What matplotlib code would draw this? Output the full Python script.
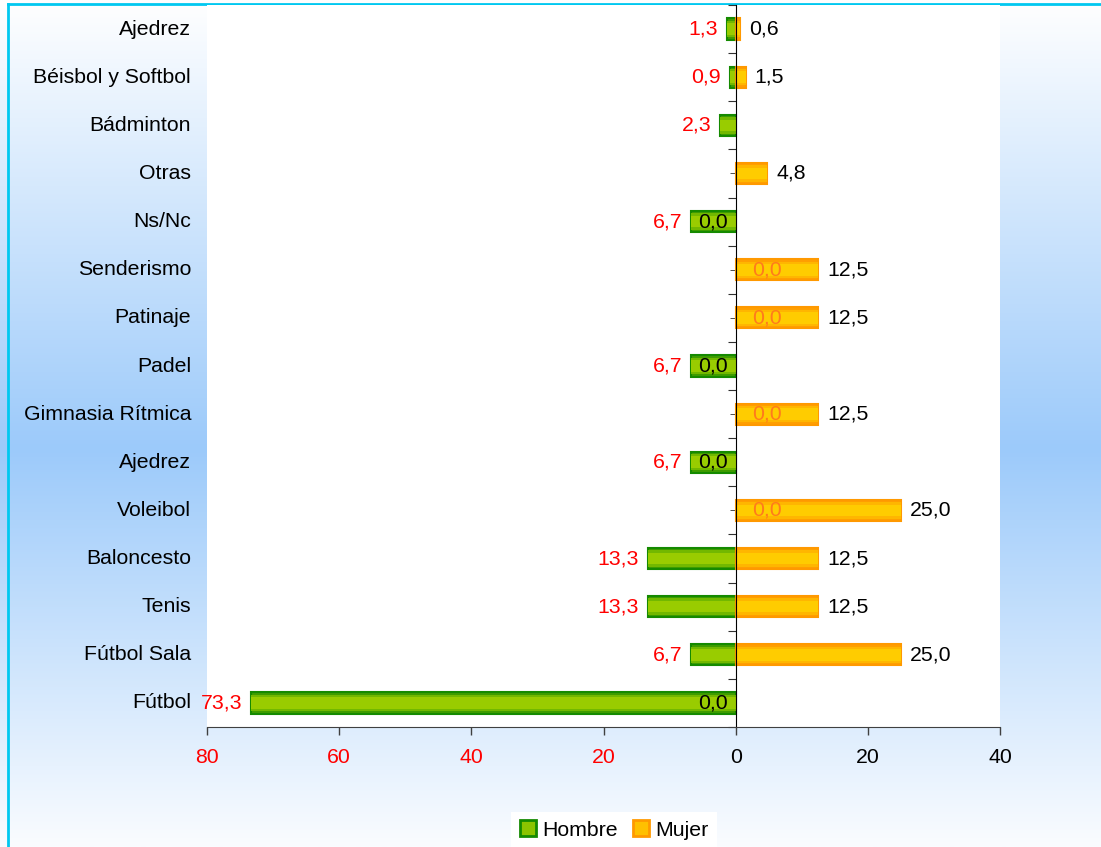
import numpy as np
import matplotlib
matplotlib.use("Agg")
import matplotlib.pyplot as plt
from matplotlib import transforms as mtransforms
from matplotlib.patches import Patch
from matplotlib.colors import to_rgb

plt.rcParams['font.family'] = ['Liberation Sans', 'DejaVu Sans']

# data, top row first
deportes = ['Ajedrez', 'Béisbol y Softbol', 'Bádminton', 'Otras', 'Ns/Nc',
            'Senderismo', 'Patinaje', 'Padel', 'Gimnasia Rítmica', 'Ajedrez',
            'Voleibol', 'Baloncesto', 'Tenis', 'Fútbol Sala', 'Fútbol']
hombre = [1.3, 0.9, 2.3, np.nan, 6.7, 0.0, 0.0, 6.7, 0.0, 6.7, 0.0, 13.3, 13.3, 6.7, 73.3]
mujer = [0.6, 1.5, np.nan, 4.8, 0.0, 12.5, 12.5, 0.0, 12.5, 0.0, 25.0, 12.5, 12.5, 25.0, 0.0]
xticks = [-80, -60, -40, -20, 0, 20, 40]

fmt = lambda v: f'{v:.1f}'.replace('.', ',')

fig = plt.figure(figsize=(11.01, 8.47), dpi=100)

# background gradient (white -> light blue -> white, top to bottom)
bg = fig.add_axes([0, 0, 1, 1], zorder=-5)
bg.set_axis_off()
stops = [0.0, 0.53, 1.0]
cols = np.array([to_rgb('#ffffff'), to_rgb('#9ccafa'), to_rgb('#fafcff')])
t = np.linspace(0, 1, 400)
grad = np.stack([np.interp(t, stops, cols[:, k]) for k in range(3)], axis=1)
bg.imshow(grad[:, None, :], aspect='auto', extent=[0, 1, 0, 1], origin='upper')
bg.set_xlim(0, 1)
bg.set_ylim(0, 1)
# cyan border top/left
bg.plot([8 / 1101, 8 / 1101], [0, 1 - 4 / 847], color='#00c8f0', lw=2)
bg.plot([8 / 1101, 1], [1 - 4 / 847, 1 - 4 / 847], color='#00c8f0', lw=2)

ax = fig.add_axes([207 / 1101, 1 - 727 / 847, 793 / 1101, 722 / 847])
ax.set_facecolor('white')

y = np.arange(len(deportes))
h = np.array(hombre)
m = np.array(mujer)
hb = np.where(np.nan_to_num(h) > 0, -h, np.nan)
mb = np.where(np.nan_to_num(m) > 0, m, np.nan)

# hombre bars (negative side), layered for a soft gradient
ax.barh(y, hb, height=0.44, facecolor='#3f9c00', edgecolor='#158a00', lw=1.5, zorder=2)
ax.barh(y, hb, height=0.34, facecolor='#72b800', edgecolor='none', zorder=2)
ax.barh(y, hb, height=0.24, facecolor='#99cc00', edgecolor='none', zorder=2)
# mujer bars
ax.barh(y, mb, height=0.44, facecolor='#ff9f00', edgecolor='#ff9900', lw=1.5, zorder=2)
ax.barh(y, mb, height=0.34, facecolor='#ffb600', edgecolor='none', zorder=2)
ax.barh(y, mb, height=0.24, facecolor='#ffcc00', edgecolor='none', zorder=2)

fs = 15.3
for yi, hv, mv in zip(y, hombre, mujer):
    if not np.isnan(hv):
        if hv > 0:
            ax.annotate(fmt(hv), (-hv, yi), xytext=(-9, 0), textcoords='offset pixels',
                        ha='right', va='center', color='#ff0000', fontsize=fs)
        else:
            ax.annotate(fmt(hv), (0, yi), xytext=(16, 0), textcoords='offset pixels',
                        ha='left', va='center', color='#ff7b1c', fontsize=fs, zorder=3)
    if not np.isnan(mv):
        if mv > 0:
            ax.annotate(fmt(mv), (mv, yi), xytext=(9, 0), textcoords='offset pixels',
                        ha='left', va='center', color='black', fontsize=fs)
        else:
            ax.annotate(fmt(mv), (0, yi), xytext=(-8, 0), textcoords='offset pixels',
                        ha='right', va='center', color='black', fontsize=fs, zorder=3)

# category labels
trans = mtransforms.blended_transform_factory(ax.transAxes, ax.transData)
for yi, name in zip(y, deportes):
    ax.text(-16 / 793, yi, name, transform=trans, ha='right', va='center', fontsize=fs)

ax.set_xlim(-80, 40)
ax.set_ylim(len(deportes) - 0.5, -0.5)
ax.set_xticks(xticks)
ax.set_xticklabels([str(abs(v)) for v in xticks], fontsize=fs)
for lab, v in zip(ax.get_xticklabels(), xticks):
    lab.set_color('#ff0000' if v < 0 else 'black')
ax.tick_params(axis='x', length=6, width=1, color='#404040', pad=9)

ax.spines['top'].set_visible(False)
ax.spines['right'].set_visible(False)
ax.spines['bottom'].set_color('#404040')
ax.spines['left'].set_position(('data', 0))
ax.spines['left'].set_color('black')
ax.spines['left'].set_zorder(2.5)
ax.set_yticks(np.arange(len(deportes) + 1) - 0.5)
ax.set_yticks(y, minor=True)
ax.tick_params(axis='y', which='major', length=6, labelleft=False, color='#303030')
ax.tick_params(axis='y', which='minor', length=4, labelleft=False, color='#303030')

handles = [Patch(facecolor='#8cc400', edgecolor='#158a00', lw=2, label='Hombre'),
           Patch(facecolor='#ffc000', edgecolor='#ff9900', lw=2, label='Mujer')]
leg = fig.legend(handles=handles, loc='center', bbox_to_anchor=(614 / 1101, 1 - 830 / 847),
                 ncol=2, fontsize=fs, frameon=True, fancybox=False, handlelength=0.75,
                 handleheight=0.75, handletextpad=0.3, columnspacing=0.7,
                 borderpad=0.4)
leg.get_frame().set_facecolor('white')
leg.get_frame().set_edgecolor('none')
leg.get_frame().set_alpha(1)

fig.savefig('out.png', dpi=100)
